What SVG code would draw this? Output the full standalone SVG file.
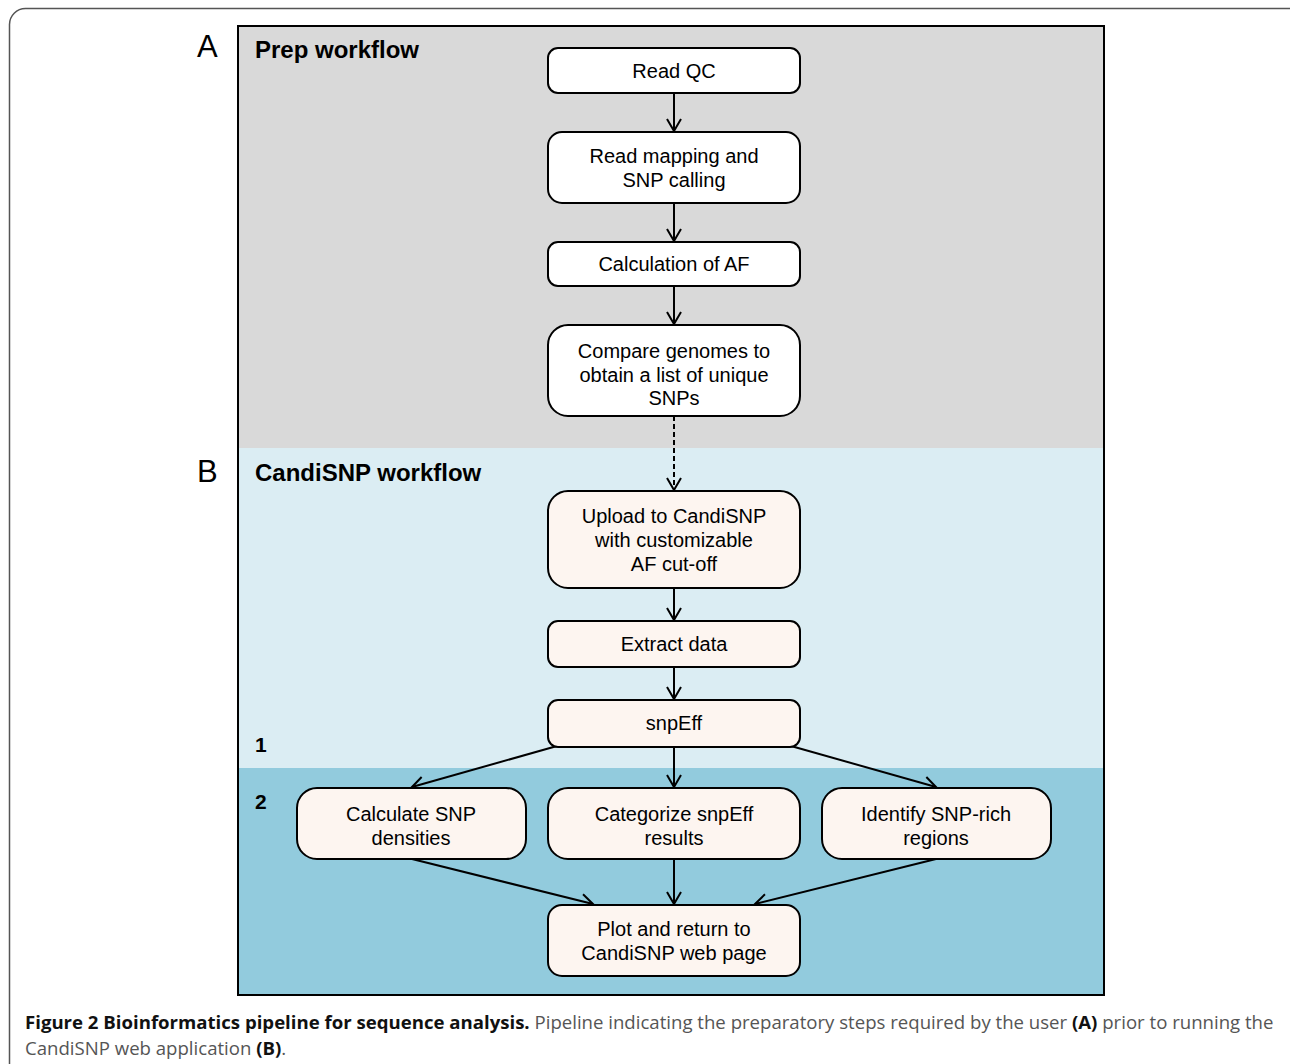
<svg xmlns="http://www.w3.org/2000/svg" width="1290" height="1064" viewBox="0 0 1290 1064">
<defs>
<style>
.node{stroke:#000;stroke-width:2;}
.prep{fill:#ffffff;}
.cand{fill:#fdf5f0;}
.t{font-family:"Liberation Sans",Arial,sans-serif;font-size:20px;fill:#000;text-anchor:middle;}
.hd{font-family:"Liberation Sans",Arial,sans-serif;font-size:24px;font-weight:bold;fill:#000;}
.lt{font-family:"Liberation Sans",Arial,sans-serif;font-size:31px;fill:#000;}
.num{font-family:"Liberation Sans",Arial,sans-serif;font-size:21px;font-weight:bold;fill:#000;}
.e{stroke:#000;stroke-width:2;fill:none;marker-end:url(#ah);}
.cap{font-family:"Open Sans","Liberation Sans",sans-serif;font-size:18.6px;fill:#555;}
.b{font-weight:bold;fill:#111;}
</style>
<marker id="ah" viewBox="0 0 16 16" refX="14" refY="8" markerWidth="16" markerHeight="16" markerUnits="userSpaceOnUse" orient="auto">
<path d="M2,1 L14,8 L2,15" fill="none" stroke="#000" stroke-width="2"/>
</marker>
</defs>
<rect width="1290" height="1064" fill="#fff"/>
<rect x="9.5" y="8.5" width="1300" height="1100" rx="16" fill="none" stroke="#555" stroke-width="1.5"/>
<g id="panel">
<rect x="238" y="26" width="866" height="422" fill="#d9d9d9"/>
<rect x="238" y="448" width="866" height="320" fill="#dbedf3"/>
<rect x="238" y="768" width="866" height="227" fill="#92cbdd"/>
<rect x="238" y="26" width="866" height="969" fill="none" stroke="#000" stroke-width="2"/>
<text class="lt" x="197" y="57">A</text>
<text class="hd" x="255" y="58">Prep workflow</text>
<text class="lt" x="197" y="482">B</text>
<text class="hd" x="255" y="481">CandiSNP workflow</text>
<text class="num" x="255" y="752">1</text>
<text class="num" x="255" y="809">2</text>
</g>
<g id="connectors">
<line class="e" x1="674" y1="93" x2="674" y2="131"/>
<line class="e" x1="674" y1="203" x2="674" y2="241"/>
<line class="e" x1="674" y1="286" x2="674" y2="324"/>
<line class="e" x1="674" y1="416" x2="674" y2="490" stroke-dasharray="5,3"/>
<line class="e" x1="674" y1="588" x2="674" y2="620"/>
<line class="e" x1="674" y1="667" x2="674" y2="699"/>
<line class="e" x1="557" y1="746" x2="412" y2="787"/>
<line class="e" x1="674" y1="747" x2="674" y2="787"/>
<line class="e" x1="791" y1="746" x2="936" y2="787"/>
<line class="e" x1="412" y1="859" x2="593" y2="904"/>
<line class="e" x1="674" y1="859" x2="674" y2="904"/>
<line class="e" x1="936" y1="859" x2="755" y2="904"/>
</g>
<g id="n-readqc"><rect class="node prep" x="548" y="48" width="252" height="45" rx="10"/><text class="t" x="674" y="78">Read QC</text></g>
<g id="n-mapping"><rect class="node prep" x="548" y="132" width="252" height="71" rx="14"/><text class="t" x="674" y="163">Read mapping and</text><text class="t" x="674" y="187">SNP calling</text></g>
<g id="n-af"><rect class="node prep" x="548" y="242" width="252" height="44" rx="10"/><text class="t" x="674" y="271">Calculation of AF</text></g>
<g id="n-compare"><rect class="node prep" x="548" y="325" width="252" height="91" rx="20"/><text class="t" x="674" y="358">Compare genomes to</text><text class="t" x="674" y="382">obtain a list of unique</text><text class="t" x="674" y="405">SNPs</text></g>
<g id="n-upload"><rect class="node cand" x="548" y="491" width="252" height="97" rx="20"/><text class="t" x="674" y="523">Upload to CandiSNP</text><text class="t" x="674" y="547">with customizable</text><text class="t" x="674" y="571">AF cut-off</text></g>
<g id="n-extract"><rect class="node cand" x="548" y="621" width="252" height="46" rx="10"/><text class="t" x="674" y="651">Extract data</text></g>
<g id="n-snpeff"><rect class="node cand" x="548" y="700" width="252" height="47" rx="10"/><text class="t" x="674" y="730">snpEff</text></g>
<g id="n-density"><rect class="node cand" x="297" y="788" width="229" height="71" rx="20"/><text class="t" x="411" y="821">Calculate SNP</text><text class="t" x="411" y="845">densities</text></g>
<g id="n-categorize"><rect class="node cand" x="548" y="788" width="252" height="71" rx="20"/><text class="t" x="674" y="821">Categorize snpEff</text><text class="t" x="674" y="845">results</text></g>
<g id="n-identify"><rect class="node cand" x="822" y="788" width="229" height="71" rx="20"/><text class="t" x="936" y="821">Identify SNP-rich</text><text class="t" x="936" y="845">regions</text></g>
<g id="n-plot"><rect class="node cand" x="548" y="905" width="252" height="71" rx="14"/><text class="t" x="674" y="936">Plot and return to</text><text class="t" x="674" y="960">CandiSNP web page</text></g>
<g id="caption">
<text class="cap" x="25" y="1029"><tspan class="b">Figure 2 Bioinformatics pipeline for sequence analysis.</tspan> Pipeline indicating the preparatory steps required by the user <tspan class="b">(A)</tspan> prior to running the</text>
<text class="cap" x="25" y="1055">CandiSNP web application <tspan class="b">(B)</tspan>.</text>
</g>
</svg>
